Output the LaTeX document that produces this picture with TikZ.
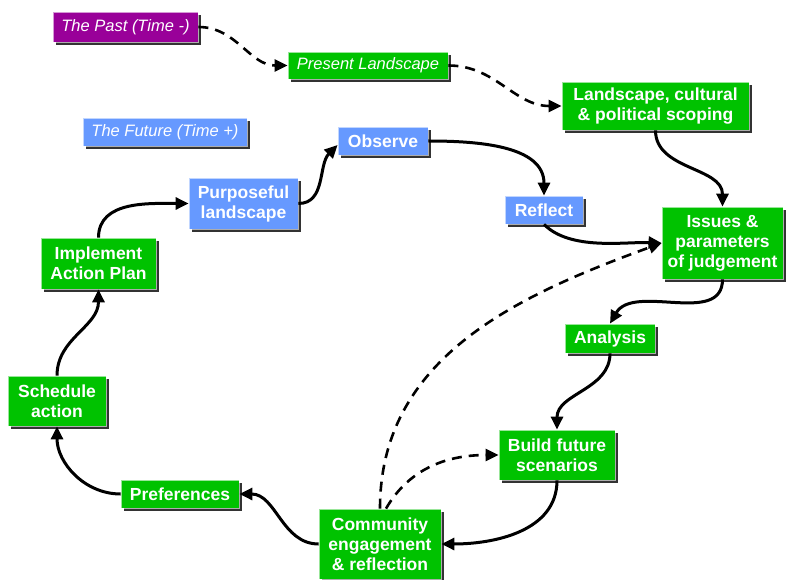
\documentclass[tikz,border=0pt]{standalone}
\usepackage{fontspec}
\setmainfont{Liberation Sans}
\usepackage{xcolor}
\usepackage{tikz}
\usetikzlibrary{arrows.meta,positioning,shadows}

\definecolor{stagegreen}{RGB}{0,194,0}
\definecolor{futureblue}{RGB}{102,153,255}
\definecolor{pastpurple}{RGB}{153,0,153}

\begin{document}
\begin{tikzpicture}[
    x=1pt, y=1pt,
    box/.style={rectangle, draw=white, draw opacity=0.6, line width=0.8pt, text=white, align=center, inner sep=0pt,
        font=\fontsize{17.5}{20}\selectfont\bfseries,
        drop shadow={shadow xshift=3pt, shadow yshift=-3pt, fill=black!80, opacity=1}},
    stage/.style={box, fill=stagegreen},
    future/.style={box, fill=futureblue},
    tag/.style={box, font=\fontsize{16.5}{20}\selectfont\itshape},
    arrow/.style={-{Triangle[length=13pt, width=12pt]}, line width=3pt},
    dasharrow/.style={arrow, line width=2.6pt, dash pattern=on 10pt off 7pt}
]
\fill[white] (0,0) rectangle (787,-580);
\useasboundingbox (0,0) rectangle (787,-580);

\node[tag, fill=pastpurple, minimum width=145pt, minimum height=30pt] (past) at (125.5,-27) {The Past (Time -)};
\node[tag, fill=stagegreen, minimum width=160pt, minimum height=27pt] (present) at (368,-65.5) {Present Landscape};
\node[tag, fill=futureblue, minimum width=164pt, minimum height=28pt] (future) at (165,-132) {The Future (Time +)};

\node[stage, minimum width=187pt, minimum height=48pt] (scoping) at (655.5,-106) {Landscape, cultural\\\& political scoping};
\node[future, minimum width=90pt, minimum height=28pt] (observe) at (383,-141) {Observe};
\node[future, minimum width=78pt, minimum height=28pt] (reflect) at (544,-210) {Reflect};
\node[stage, minimum width=121pt, minimum height=72pt] (issues) at (722.5,-243) {Issues \&\\parameters\\of judgement};
\node[future, minimum width=109pt, minimum height=51pt] (purposeful) at (243.5,-203.5) {Purposeful\\landscape};
\node[stage, minimum width=115pt, minimum height=51pt] (implement) at (98.5,-263.5) {Implement\\Action Plan};
\node[stage, minimum width=98pt, minimum height=50pt] (schedule) at (57,-401) {Schedule\\action};
\node[stage, minimum width=90pt, minimum height=29pt] (analysis) at (610,-338.5) {Analysis};
\node[stage, minimum width=116pt, minimum height=50pt] (build) at (557,-455) {Build future\\scenarios};
\node[stage, minimum width=122pt, minimum height=70pt] (community) at (380,-544) {Community\\engagement\\\& reflection};
\node[stage, minimum width=118pt, minimum height=28pt] (preferences) at (180,-494) {Preferences};

\draw[dasharrow] (past.east) to[out=0, in=180] (present.west);
\draw[dasharrow] (present.east) to[out=0, in=180] (scoping.west);
\draw[arrow] (scoping.south) to[out=-90, in=90] (issues.north);
\draw[arrow] (observe.east) to[out=0, in=90] (reflect.north);
\draw[arrow] (reflect.south) to[out=-45, in=178, looseness=0.8] (issues.west);
\draw[arrow] (issues.south) to[out=-90, in=60] (analysis.north);
\draw[arrow] (analysis.south) to[out=-90, in=90] (build.north);
\draw[arrow] (build.south) to[out=-90, in=0] (community.east);
\draw[arrow] (community.west) to[out=180, in=0] (preferences.east);
\draw[arrow] (preferences.west) to[out=180, in=-90] (schedule.south);
\draw[arrow] (schedule.north) to[out=90, in=-90] (implement.south);
\draw[arrow] (implement.north) to[out=90, in=180] (purposeful.west);
\draw[arrow] (purposeful.east) to[out=0, in=-135] ([yshift=-4pt]observe.west);
\draw[dasharrow] (community.north) to[out=90, in=200] (issues.west);
\draw[dasharrow] ([xshift=6pt]community.north) to[out=60, in=180] (build.west);
\end{tikzpicture}
\end{document}
